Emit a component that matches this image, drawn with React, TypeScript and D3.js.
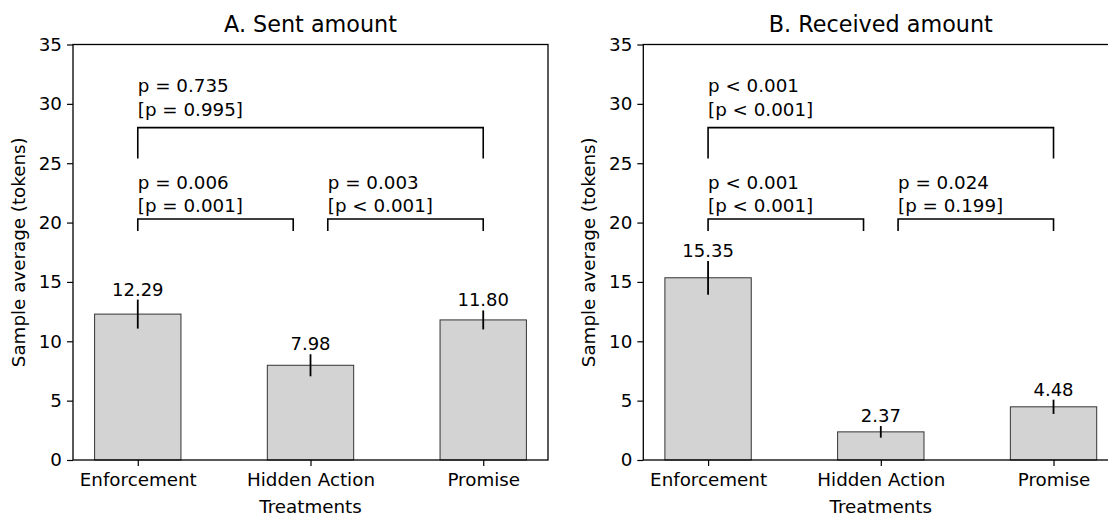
import React, { useEffect, useRef } from "react";
import * as d3 from "d3";

// categories and values
const treatments = ["Enforcement", "Hidden Action", "Promise"];

const sentMeans = [12.29, 7.98, 11.8];
const sentErrors = [1.22, 0.93, 0.8];

const receivedMeans = [15.35, 2.37, 4.48];
const receivedErrors = [1.42, 0.49, 0.6];

// pairwise comparisons: [from, to] in category units
const comparisons = [
  [0, 2],
  [0, 0.9],
  [1.1, 2],
];
const bracketTops = [28, 20.3];
const bracketBottoms = [25.4, 19.3];
const textLevels = [29.0, 20.85];

const sentPValues = [
  ["p = 0.735", "[p = 0.995]"],
  ["p = 0.006", "[p = 0.001]"],
  ["p = 0.003", "[p < 0.001]"],
];
const receivedPValues = [
  ["p < 0.001", "[p < 0.001]"],
  ["p < 0.001", "[p < 0.001]"],
  ["p = 0.024", "[p = 0.199]"],
];

const yTicks = [0, 5, 10, 15, 20, 25, 30, 35];

const panels = [
  { title: "A. Sent amount", left: 73, means: sentMeans, errors: sentErrors, pvals: sentPValues },
  { title: "B. Received amount", left: 643.3, means: receivedMeans, errors: receivedErrors, pvals: receivedPValues },
];

const App = () => {
  const ref = useRef<SVGSVGElement>(null);

  useEffect(() => {
    const svg = d3.select(ref.current);
    svg.selectAll("*").remove();
    const font = "DejaVu Sans, sans-serif";
    const axW = 475,
      top = 44.5,
      bottom = 460;

    panels.forEach((p) => {
      const x = d3.scaleLinear().domain([-0.375, 2.375]).range([p.left, p.left + axW]);
      const y = d3.scaleLinear().domain([0, 35]).range([bottom, top]);
      const g = svg.append("g").style("font-family", font);
      const bw = x(0.5) - x(0);

      // bars
      g.selectAll("rect.bar")
        .data(p.means)
        .enter()
        .append("rect")
        .attr("x", (d, i) => x(i) - bw / 2)
        .attr("y", (d) => y(d))
        .attr("width", bw)
        .attr("height", (d) => y(0) - y(d))
        .attr("fill", "#d3d3d3")
        .attr("stroke", "#333")
        .attr("stroke-width", 1);

      // error bars
      g.selectAll("line.err")
        .data(p.means)
        .enter()
        .append("line")
        .attr("x1", (d, i) => x(i))
        .attr("x2", (d, i) => x(i))
        .attr("y1", (d, i) => y(d - p.errors[i]))
        .attr("y2", (d, i) => y(d + p.errors[i]))
        .attr("stroke", "black")
        .attr("stroke-width", 1.8);

      // value labels
      g.selectAll("text.val")
        .data(p.means)
        .enter()
        .append("text")
        .attr("x", (d, i) => x(i))
        .attr("y", (d, i) => y(d + p.errors[i]) - 4)
        .attr("text-anchor", "middle")
        .attr("font-size", 18)
        .text((d) => d.toFixed(2));

      // brackets and p-values
      comparisons.forEach(([a, b], k) => {
        const lvl = k === 0 ? 0 : 1;
        const path = d3.path();
        path.moveTo(x(a), y(bracketBottoms[lvl]));
        path.lineTo(x(a), y(bracketTops[lvl]));
        path.lineTo(x(b), y(bracketTops[lvl]));
        path.lineTo(x(b), y(bracketBottoms[lvl]));
        g.append("path")
          .attr("d", path.toString())
          .attr("fill", "none")
          .attr("stroke", "black")
          .attr("stroke-width", 1.6);
        const t = g
          .append("text")
          .attr("x", x(a))
          .attr("y", y(textLevels[lvl]))
          .attr("font-size", 18.3);
        t.append("tspan").attr("x", x(a)).attr("dy", -23.5).text(p.pvals[k][0]);
        t.append("tspan").attr("x", x(a)).attr("dy", 23.5).text(p.pvals[k][1]);
      });

      // axes
      const yAxis = g
        .append("g")
        .attr("transform", `translate(${p.left},0)`)
        .call(d3.axisLeft(y).tickValues(yTicks).tickSize(6).tickPadding(5));
      yAxis.selectAll("text").attr("font-size", 18.3).attr("font-family", font);
      const xAxis = g
        .append("g")
        .attr("transform", `translate(0,${bottom})`)
        .call(
          d3
            .axisBottom(x)
            .tickValues([0, 1, 2])
            .tickFormat((d, i) => treatments[i])
            .tickSize(6)
            .tickPadding(7)
        );
      xAxis.selectAll("text").attr("font-size", 18.3).attr("font-family", font);
      g.selectAll(".domain").remove();
      g.selectAll(".tick line").attr("stroke", "black").attr("stroke-width", 1.2);

      // spines
      g.append("rect")
        .attr("x", p.left)
        .attr("y", top)
        .attr("width", axW)
        .attr("height", bottom - top)
        .attr("fill", "none")
        .attr("stroke", "black")
        .attr("stroke-width", 1.3);

      // titles and labels
      g.append("text")
        .attr("x", p.left + axW / 2)
        .attr("y", 32)
        .attr("text-anchor", "middle")
        .attr("font-size", 22.3)
        .text(p.title);
      g.append("text")
        .attr("x", p.left + axW / 2)
        .attr("y", 513)
        .attr("text-anchor", "middle")
        .attr("font-size", 18.3)
        .text("Treatments");
      g.append("text")
        .attr("transform", `translate(${p.left - 55},${(top + bottom) / 2}) rotate(-90)`)
        .attr("text-anchor", "middle")
        .attr("dominant-baseline", "central")
        .attr("font-size", 18.3)
        .text("Sample average (tokens)");
    });
  }, []);

  return (
    <svg
      ref={ref}
      width={1108}
      height={516}
      style={{ position: "absolute", left: 0, top: 0, background: "white" }}
    />
  );
};

export default App;
